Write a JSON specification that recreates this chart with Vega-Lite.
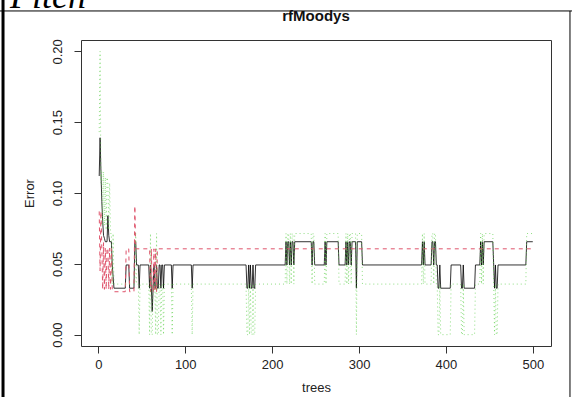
{
  "$schema": "https://vega.github.io/schema/vega-lite/v6.json",
  "width": 470,
  "height": 306,
  "autosize": {"type": "none"},
  "padding": {"left": 81, "top": 40, "right": 21, "bottom": 51},
  "background": "white",
  "config": {
    "view": {"stroke": "#333", "strokeWidth": 1},
    "axis": {"labelFont": "Liberation Sans", "titleFont": "Liberation Sans", "labelFontSize": 13, "titleFontSize": 13, "titleFontWeight": "normal", "labelColor": "#222", "titleColor": "#222", "tickColor": "#333", "tickSize": 7, "domain": false, "grid": false}
  },
  "datasets": {
    "oob": [
      {"t":1,"e":0.112},{"t":2,"e":0.139},{"t":3,"e":0.115},{"t":4,"e":0.094},{"t":5,"e":0.080},{"t":6,"e":0.070},{"t":7,"e":0.068},{"t":8,"e":0.0656},{"t":10,"e":0.0656},{"t":11,"e":0.084},{"t":12,"e":0.070},{"t":13,"e":0.0656},{"t":15,"e":0.0656},{"t":16,"e":0.0492},{"t":17,"e":0.041},{"t":18,"e":0.0328},{"t":31,"e":0.0328},{"t":32,"e":0.0492},{"t":35,"e":0.0492},{"t":36,"e":0.0328},{"t":41,"e":0.0328},{"t":42,"e":0.0656},{"t":43,"e":0.0656},{"t":44,"e":0.0492},{"t":46,"e":0.0492},{"t":47,"e":0.0328},{"t":48,"e":0.0492},{"t":58,"e":0.0492},{"t":59,"e":0.0328},{"t":60,"e":0.0492},{"t":61,"e":0.0328},{"t":62,"e":0.0164},{"t":63,"e":0.0328},{"t":64,"e":0.0492},{"t":65,"e":0.0328},{"t":66,"e":0.0328},{"t":67,"e":0.0492},{"t":68,"e":0.0328},{"t":69,"e":0.0328},{"t":70,"e":0.0492},{"t":71,"e":0.0492},{"t":72,"e":0.0328},{"t":73,"e":0.0492},{"t":74,"e":0.0492},{"t":75,"e":0.0328},{"t":76,"e":0.0492},{"t":84,"e":0.0492},{"t":85,"e":0.0328},{"t":86,"e":0.0492},{"t":107,"e":0.0492},{"t":108,"e":0.0328},{"t":109,"e":0.0492},{"t":170,"e":0.0492},{"t":171,"e":0.0328},{"t":172,"e":0.0328},{"t":173,"e":0.0492},{"t":174,"e":0.0328},{"t":175,"e":0.0492},{"t":176,"e":0.0328},{"t":177,"e":0.0328},{"t":178,"e":0.0492},{"t":179,"e":0.0328},{"t":180,"e":0.0328},{"t":181,"e":0.0492},{"t":215,"e":0.0492},{"t":216,"e":0.0656},{"t":217,"e":0.0492},{"t":218,"e":0.0656},{"t":219,"e":0.0656},{"t":220,"e":0.0492},{"t":221,"e":0.0656},{"t":222,"e":0.0492},{"t":223,"e":0.0656},{"t":224,"e":0.0656},{"t":225,"e":0.0492},{"t":226,"e":0.0656},{"t":245,"e":0.0656},{"t":246,"e":0.0492},{"t":247,"e":0.0656},{"t":248,"e":0.0656},{"t":249,"e":0.0492},{"t":260,"e":0.0492},{"t":261,"e":0.0656},{"t":262,"e":0.0492},{"t":263,"e":0.0656},{"t":276,"e":0.0656},{"t":277,"e":0.0492},{"t":284,"e":0.0492},{"t":285,"e":0.0656},{"t":286,"e":0.0492},{"t":287,"e":0.0656},{"t":288,"e":0.0492},{"t":289,"e":0.0656},{"t":290,"e":0.0656},{"t":291,"e":0.0492},{"t":292,"e":0.0656},{"t":296,"e":0.0656},{"t":297,"e":0.0328},{"t":298,"e":0.0656},{"t":303,"e":0.0656},{"t":304,"e":0.0492},{"t":372,"e":0.0492},{"t":373,"e":0.0656},{"t":374,"e":0.0492},{"t":375,"e":0.0656},{"t":376,"e":0.0492},{"t":383,"e":0.0492},{"t":384,"e":0.0656},{"t":385,"e":0.0656},{"t":386,"e":0.0492},{"t":387,"e":0.0656},{"t":388,"e":0.0656},{"t":389,"e":0.0492},{"t":390,"e":0.0492},{"t":391,"e":0.0328},{"t":392,"e":0.0328},{"t":393,"e":0.0492},{"t":394,"e":0.0328},{"t":405,"e":0.0328},{"t":406,"e":0.0492},{"t":417,"e":0.0492},{"t":418,"e":0.0328},{"t":419,"e":0.0328},{"t":420,"e":0.0492},{"t":421,"e":0.0328},{"t":433,"e":0.0328},{"t":434,"e":0.0492},{"t":439,"e":0.0492},{"t":440,"e":0.0656},{"t":441,"e":0.0492},{"t":442,"e":0.0656},{"t":443,"e":0.0492},{"t":444,"e":0.0656},{"t":454,"e":0.0656},{"t":455,"e":0.0492},{"t":456,"e":0.0328},{"t":457,"e":0.0492},{"t":458,"e":0.0328},{"t":459,"e":0.0328},{"t":460,"e":0.0492},{"t":492,"e":0.0492},{"t":493,"e":0.0656},{"t":500,"e":0.0656}
    ],
    "red": [
      {"t":1,"e":0.087},{"t":2,"e":0.045},{"t":3,"e":0.087},{"t":4,"e":0.061},{"t":5,"e":0.032},{"t":6,"e":0.065},{"t":7,"e":0.032},{"t":8,"e":0.061},{"t":9,"e":0.032},{"t":10,"e":0.061},{"t":11,"e":0.061},{"t":12,"e":0.032},{"t":13,"e":0.061},{"t":14,"e":0.032},{"t":15,"e":0.061},{"t":16,"e":0.032},{"t":17,"e":0.0303},{"t":31,"e":0.0303},{"t":32,"e":0.0606},{"t":35,"e":0.0606},{"t":36,"e":0.0303},{"t":41,"e":0.0303},{"t":42,"e":0.0909},{"t":43,"e":0.0606},{"t":59,"e":0.0606},{"t":60,"e":0.0303},{"t":61,"e":0.0606},{"t":62,"e":0.0303},{"t":63,"e":0.0303},{"t":64,"e":0.0606},{"t":65,"e":0.0303},{"t":66,"e":0.0606},{"t":67,"e":0.0303},{"t":68,"e":0.0606},{"t":500,"e":0.0606}
    ],
    "green": [
      {"t":1,"e":0.143},{"t":2,"e":0.2},{"t":3,"e":0.107},{"t":4,"e":0.115},{"t":5,"e":0.077},{"t":6,"e":0.115},{"t":7,"e":0.077},{"t":8,"e":0.111},{"t":9,"e":0.074},{"t":10,"e":0.111},{"t":11,"e":0.107},{"t":12,"e":0.074},{"t":13,"e":0.107},{"t":14,"e":0.0714},{"t":15,"e":0.0714},{"t":16,"e":0.0357},{"t":17,"e":0.0714},{"t":18,"e":0.0357},{"t":42,"e":0.0357},{"t":43,"e":0.0714},{"t":44,"e":0.0357},{"t":46,"e":0.0357},{"t":47,"e":0},{"t":48,"e":0.0357},{"t":58,"e":0.0357},{"t":59,"e":0},{"t":60,"e":0.0714},{"t":61,"e":0},{"t":62,"e":0},{"t":63,"e":0.0357},{"t":65,"e":0.0357},{"t":66,"e":0},{"t":67,"e":0.0714},{"t":68,"e":0},{"t":69,"e":0},{"t":70,"e":0.0357},{"t":71,"e":0.0357},{"t":72,"e":0},{"t":73,"e":0.0357},{"t":74,"e":0.0357},{"t":75,"e":0},{"t":76,"e":0.0357},{"t":84,"e":0.0357},{"t":85,"e":0},{"t":86,"e":0.0357},{"t":107,"e":0.0357},{"t":108,"e":0},{"t":109,"e":0.0357},{"t":170,"e":0.0357},{"t":171,"e":0},{"t":172,"e":0},{"t":173,"e":0.0357},{"t":174,"e":0},{"t":175,"e":0.0357},{"t":176,"e":0},{"t":177,"e":0},{"t":178,"e":0.0357},{"t":179,"e":0},{"t":180,"e":0},{"t":181,"e":0.0357},{"t":215,"e":0.0357},{"t":216,"e":0.0714},{"t":217,"e":0.0357},{"t":218,"e":0.0714},{"t":219,"e":0.0714},{"t":220,"e":0.0357},{"t":221,"e":0.0714},{"t":222,"e":0.0357},{"t":223,"e":0.0714},{"t":224,"e":0.0714},{"t":225,"e":0.0357},{"t":226,"e":0.0714},{"t":245,"e":0.0714},{"t":246,"e":0.0357},{"t":247,"e":0.0714},{"t":248,"e":0.0714},{"t":249,"e":0.0357},{"t":260,"e":0.0357},{"t":261,"e":0.0714},{"t":262,"e":0.0357},{"t":263,"e":0.0714},{"t":276,"e":0.0714},{"t":277,"e":0.0357},{"t":284,"e":0.0357},{"t":285,"e":0.0714},{"t":286,"e":0.0357},{"t":287,"e":0.0714},{"t":288,"e":0.0357},{"t":289,"e":0.0714},{"t":290,"e":0.0714},{"t":291,"e":0.0357},{"t":292,"e":0.0714},{"t":296,"e":0.0714},{"t":297,"e":0},{"t":298,"e":0.0714},{"t":303,"e":0.0714},{"t":304,"e":0.0357},{"t":372,"e":0.0357},{"t":373,"e":0.0714},{"t":374,"e":0.0357},{"t":375,"e":0.0714},{"t":376,"e":0.0357},{"t":383,"e":0.0357},{"t":384,"e":0.0714},{"t":385,"e":0.0714},{"t":386,"e":0.0357},{"t":387,"e":0.0714},{"t":388,"e":0.0714},{"t":389,"e":0.0357},{"t":390,"e":0.0357},{"t":391,"e":0},{"t":392,"e":0},{"t":393,"e":0.0357},{"t":394,"e":0},{"t":405,"e":0},{"t":406,"e":0.0357},{"t":417,"e":0.0357},{"t":418,"e":0},{"t":419,"e":0},{"t":420,"e":0.0357},{"t":421,"e":0},{"t":433,"e":0},{"t":434,"e":0.0357},{"t":439,"e":0.0357},{"t":440,"e":0.0714},{"t":441,"e":0.0357},{"t":442,"e":0.0714},{"t":443,"e":0.0357},{"t":444,"e":0.0714},{"t":454,"e":0.0714},{"t":455,"e":0.0357},{"t":456,"e":0},{"t":457,"e":0.0357},{"t":458,"e":0},{"t":459,"e":0},{"t":460,"e":0.0357},{"t":492,"e":0.0357},{"t":493,"e":0.0714},{"t":500,"e":0.0714}
    ],
    "one": [{"k": 1}]
  },
  "layer": [
    {"data": {"name": "oob"}, "mark": {"type": "line", "color": "#000", "strokeWidth": 1, "opacity": 0.8},
     "encoding": {
       "x": {"field": "t", "type": "quantitative", "scale": {"domain": [-19.96, 520.96], "nice": false, "zero": false},
             "axis": {"title": "trees", "values": [0, 100, 200, 300, 400, 500], "labelPadding": 5, "titlePadding": 10, "labelFlush": false}},
       "y": {"field": "e", "type": "quantitative", "scale": {"domain": [-0.008, 0.208], "nice": false, "zero": false},
             "axis": {"title": "Error", "values": [0, 0.05, 0.1, 0.15, 0.2], "format": ".2f", "labelAngle": 270, "labelAlign": "center", "labelBaseline": "bottom", "labelPadding": 10, "titlePadding": 15, "labelFlush": false}}
     }},
    {"data": {"name": "red"}, "mark": {"type": "line", "color": "#DF536B", "strokeWidth": 1, "strokeDash": [4, 4]},
     "encoding": {
       "x": {"field": "t", "type": "quantitative", "title": "trees"},
       "y": {"field": "e", "type": "quantitative", "title": "Error"}
     }},
    {"data": {"name": "green"}, "mark": {"type": "line", "color": "#61D04F", "strokeWidth": 1, "strokeDash": [1, 3], "opacity": 0.7},
     "encoding": {
       "x": {"field": "t", "type": "quantitative", "title": "trees"},
       "y": {"field": "e", "type": "quantitative", "title": "Error"}
     }},
    {"data": {"name": "one"}, "mark": {"type": "rule", "color": "#000", "strokeWidth": 1},
     "encoding": {"x": {"datum": -115}, "x2": {"datum": 560}, "y": {"datum": 0.2285}}},
    {"data": {"name": "one"}, "mark": {"type": "rule", "color": "#000", "strokeWidth": 3},
     "encoding": {"x": {"datum": -109.7}, "y": {"datum": 0.245}, "y2": {"datum": -0.06}}},
    {"data": {"name": "one"}, "mark": {"type": "rule", "color": "#000", "strokeWidth": 1},
     "encoding": {"x": {"datum": 542.8}, "y": {"datum": 0.2285}, "y2": {"datum": -0.06}}},
    {"data": {"name": "one"}, "mark": {"type": "text", "font": "Liberation Serif", "fontStyle": "italic", "fontSize": 36, "align": "left", "baseline": "alphabetic", "color": "#000"},
     "encoding": {"x": {"datum": -101.7}, "y": {"datum": 0.2306}, "text": {"value": "Pitch"}}},
    {"data": {"name": "one"}, "mark": {"type": "text", "font": "Liberation Sans", "fontWeight": "bold", "fontSize": 15, "align": "center", "baseline": "middle", "color": "#111"},
     "encoding": {"x": {"datum": 250.5}, "y": {"datum": 0.2249}, "text": {"value": "rfMoodys"}}}
  ]
}
